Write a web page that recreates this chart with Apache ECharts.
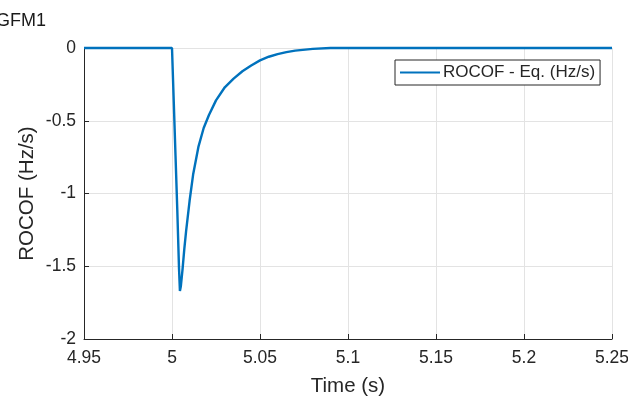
<!DOCTYPE html>
<html>
<head>
<meta charset="utf-8">
<script src="https://cdn.jsdelivr.net/npm/echarts@6/dist/echarts.min.js"></script>
<style>
  html, body { margin: 0; padding: 0; background: #fff; }
  #chart { width: 628px; height: 399px; }
</style>
</head>
<body>
<div id="chart"></div>
<script>
// Rate of change of frequency after the disturbance at t = 5 s
const time = [4.95, 5.0, 5.001, 5.002, 5.003, 5.004, 5.0045, 5.005, 5.006, 5.007, 5.008,
  5.010, 5.012, 5.015, 5.018, 5.021, 5.025, 5.030, 5.035, 5.040, 5.045, 5.050,
  5.055, 5.060, 5.065, 5.070, 5.080, 5.090, 5.100, 5.120, 5.150, 5.200, 5.250];
const rocof = [0, 0, -0.37, -0.74, -1.11, -1.52, -1.67, -1.64, -1.52, -1.38, -1.26,
  -1.05, -0.87, -0.68, -0.55, -0.46, -0.36, -0.27, -0.21, -0.16, -0.12, -0.085,
  -0.06, -0.042, -0.028, -0.018, -0.006, 0.0, 0.001, 0.0005, 0, 0, 0];
const seriesName = 'ROCOF - Eq. (Hz/s)';
const xTicks = [4.95, 5.25, 0.05];
const yTicks = [-2, 0, 0.5];

const fontFamily = '"Liberation Sans", Arial, Helvetica, sans-serif';
const ink = '#262626';
const fmt = v => String(parseFloat(v.toFixed(4)));

const chart = echarts.init(document.getElementById('chart'));
chart.setOption({
  animation: false,
  backgroundColor: '#ffffff',
  title: {
    text: 'GFM1',
    left: -4,
    top: 12,
    padding: 0,
    textStyle: { fontFamily, fontSize: 18, fontWeight: 'normal', color: '#1a1a1a' }
  },
  grid: { left: 84, right: 16, top: 48, bottom: 60, outerBoundsMode: 'none', containLabel: false },
  legend: {
    data: [{ name: seriesName, icon: 'rect' }],
    left: 395,
    top: 60,
    itemWidth: 40,
    itemHeight: 2,
    padding: [4, 5, 4, 5],
    borderColor: ink,
    borderWidth: 1,
    borderRadius: 0,
    backgroundColor: '#ffffff',
    textStyle: { fontFamily, fontSize: 17, color: ink, padding: [0, 0, 0, -2] }
  },
  xAxis: {
    type: 'value',
    min: xTicks[0],
    max: xTicks[1],
    interval: xTicks[2],
    name: 'Time (s)',
    nameLocation: 'middle',
    nameGap: 37,
    nameMoveOverlap: false,
    nameTextStyle: { fontFamily, fontSize: 20.5, color: ink, verticalAlign: 'top' },
    axisLine: { show: true, onZero: false, lineStyle: { color: ink, width: 1 } },
    axisTick: { show: true, inside: true, length: 5, lineStyle: { color: ink } },
    axisLabel: { fontFamily, fontSize: 17.5, color: ink, margin: 10, formatter: fmt },
    splitLine: { show: true, lineStyle: { color: '#e3e3e3', width: 1 } }
  },
  yAxis: {
    type: 'value',
    min: yTicks[0],
    max: yTicks[1],
    interval: yTicks[2],
    name: 'ROCOF (Hz/s)',
    nameLocation: 'middle',
    nameGap: 46,
    nameMoveOverlap: false,
    nameTextStyle: { fontFamily, fontSize: 20.5, color: ink },
    axisLine: { show: true, onZero: false, lineStyle: { color: ink, width: 1 } },
    axisTick: { show: true, inside: true, length: 5, lineStyle: { color: ink } },
    axisLabel: { fontFamily, fontSize: 17.5, color: ink, margin: 8, formatter: fmt },
    splitLine: { show: true, lineStyle: { color: '#e3e3e3', width: 1 } }
  },
  series: [{
    name: seriesName,
    type: 'line',
    data: time.map((t, i) => [t, rocof[i]]),
    symbol: 'none',
    smooth: false,
    clip: false,
    itemStyle: { color: '#0072BD' },
    lineStyle: { color: '#0072BD', width: 2.4 }
  }]
});
</script>
</body>
</html>
